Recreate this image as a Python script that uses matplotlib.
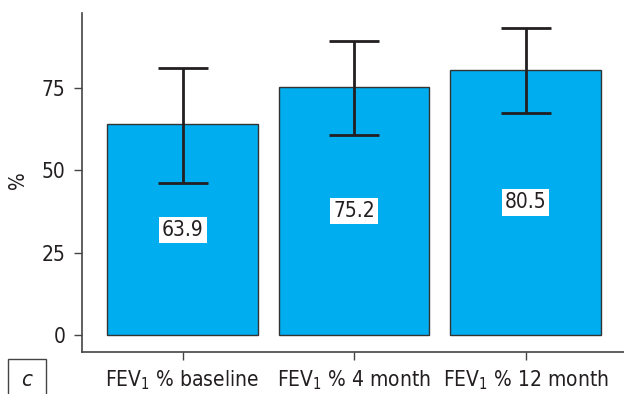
import matplotlib

matplotlib.use("Agg")
import matplotlib.pyplot as plt
from matplotlib.patches import Rectangle
from matplotlib import font_manager

# ==========================================
# Data
# ==========================================
categories = ["FEV$_1$ % baseline", "FEV$_1$ % 4 month", "FEV$_1$ % 12 month"]
means = [63.9, 75.2, 80.5]
err_low = [17.6, 14.5, 13.2]
err_high = [17.0, 14.0, 12.7]
yticks = [0, 25, 50, 75]

BAR_COLOR = "#00aeef"
INK = "#231f20"

# Pick a narrow font if one is around
names = {f.name for f in font_manager.fontManager.ttflist}
if "Liberation Sans Narrow" in names:
    plt.rcParams["font.family"] = ["Liberation Sans Narrow", "DejaVu Sans"]
else:
    plt.rcParams["font.family"] = ["DejaVu Sans"]
    plt.rcParams["font.stretch"] = "condensed"
plt.rcParams["mathtext.fontset"] = "custom"
plt.rcParams["mathtext.rm"] = plt.rcParams["font.family"][0]

fig = plt.figure(figsize=(6.24, 3.94), dpi=100)
ax = fig.add_axes([82 / 624, 1 - 351.7 / 394, 1 - 82 / 624, (351.7 - 13) / 394])

x = list(range(len(means)))
ax.bar(x, means, width=0.88, color=BAR_COLOR, edgecolor="#333333", linewidth=1.0, zorder=2)
ax.errorbar(x, means, yerr=[err_low, err_high], fmt="none", ecolor=INK,
            elinewidth=2, capsize=18, capthick=2, zorder=3)

# Value labels halfway up each bar
for xi, m in zip(x, means):
    ax.text(xi, m / 2, f"{m:.1f}", ha="center", va="center", fontsize=15, color=INK,
            bbox=dict(boxstyle="square,pad=0.15", facecolor="white", edgecolor="none"),
            zorder=4)

ax.set_xlim(-0.586, 2.574)
ax.set_ylim(-5, 97.7)
ax.set_xticks(x)
ax.set_xticklabels(categories, fontsize=15, color=INK)
ax.set_yticks(yticks)
ax.set_yticklabels([str(t) for t in yticks], fontsize=15, color=INK)
ax.tick_params(axis="both", length=6, width=1, color="#444444", pad=6)

for side in ["top", "right"]:
    ax.spines[side].set_visible(False)
for side in ["left", "bottom"]:
    ax.spines[side].set_color("#444444")
    ax.spines[side].set_linewidth(1.2)

# Axis title sits near the left edge of the figure
fig.text(18 / 624, 1 - 180 / 394, "%", rotation=90, ha="center", va="center",
         fontsize=15, color=INK)

# Panel letter in a box at the lower-left corner
fig.patches.append(Rectangle((8 / 624, -0.02), 38 / 624, (394 - 359) / 394 + 0.02,
                             transform=fig.transFigure, fill=False,
                             edgecolor="#444444", linewidth=1.0))
fig.text(27 / 624, 1 - 380 / 394, "c", ha="center", va="center",
         fontsize=16, style="italic", color=INK)

fig.savefig("out.png", dpi=100)
